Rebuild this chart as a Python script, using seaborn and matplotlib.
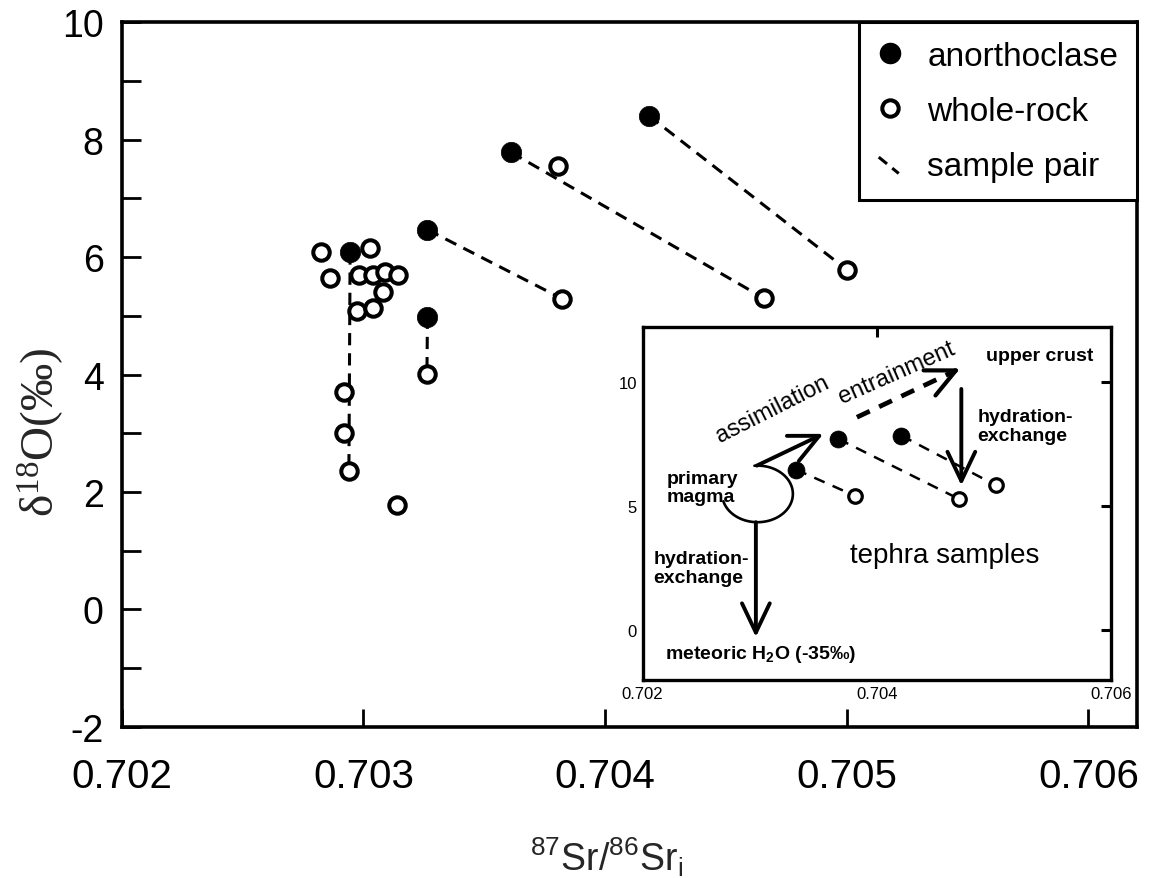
import matplotlib
matplotlib.use("Agg")
import matplotlib.pyplot as plt
import numpy as np
import pandas as pd
import seaborn as sns
from matplotlib.lines import Line2D
from matplotlib.legend_handler import HandlerBase
from matplotlib.ticker import FixedLocator, MultipleLocator, NullFormatter

# ---- data -------------------------------------------------------------
# anorthoclase separates: initial 87Sr/86Sr and d18O (per mil)
anor_sr = [0.702945, 0.703265, 0.703265, 0.703611, 0.704181]
anor_d18o = [6.08, 4.985, 6.467, 7.785, 8.409]

# whole-rock samples
wr_sr = [0.702824, 0.703028, 0.702860, 0.702980, 0.703039, 0.703090,
         0.703143, 0.703081, 0.702973, 0.703038, 0.702918, 0.702920,
         0.702940, 0.703139, 0.703263, 0.703804, 0.703823, 0.704657,
         0.705002]
wr_d18o = [6.08, 6.15, 5.64, 5.70, 5.70, 5.74,
           5.70, 5.41, 5.09, 5.13, 3.71, 3.00,
           2.36, 1.78, 4.01, 7.56, 5.29, 5.30,
           5.78]

# anorthoclase / whole-rock pairs from the same sample (list indices)
pair_anor = [0, 1, 2, 3, 4]
pair_wr = [12, 14, 16, 17, 18]

# tephra samples shown in the process sketch
sketch_anor_sr = [0.70331, 0.70367, 0.70421]
sketch_anor_d18o = [6.48, 7.72, 7.85]
sketch_wr_sr = [0.70381, 0.70470, 0.70502]
sketch_wr_d18o = [5.43, 5.30, 5.84]

x_ticks = [0.702, 0.703, 0.704, 0.705, 0.706]
x_ticklabels = ["0.702", "0.703", "0.704", "0.705", "0.706"]
y_ticks = [-2, 0, 2, 4, 6, 8, 10]
sketch_x_ticks = [0.702, 0.704, 0.706]
sketch_x_ticklabels = ["0.702", "0.704", "0.706"]
sketch_y_ticks = [0, 5, 10]

# ---- tables -------------------------------------------------------------
anor_df = pd.DataFrame({"sr": anor_sr, "d18o": anor_d18o})
wr_df = pd.DataFrame({"sr": wr_sr, "d18o": wr_d18o})
pair_rows = []
for k, (i, j) in enumerate(zip(pair_anor, pair_wr)):
    pair_rows.append({"pair": k, "sr": anor_sr[i], "d18o": anor_d18o[i]})
    pair_rows.append({"pair": k, "sr": wr_sr[j], "d18o": wr_d18o[j]})
pair_df = pd.DataFrame(pair_rows)

sk_anor_df = pd.DataFrame({"sr": sketch_anor_sr, "d18o": sketch_anor_d18o})
sk_wr_df = pd.DataFrame({"sr": sketch_wr_sr, "d18o": sketch_wr_d18o})
sk_rows = []
for k in range(len(sketch_anor_sr)):
    sk_rows.append({"pair": k, "sr": sketch_anor_sr[k], "d18o": sketch_anor_d18o[k]})
    sk_rows.append({"pair": k, "sr": sketch_wr_sr[k], "d18o": sketch_wr_d18o[k]})
sk_pair_df = pd.DataFrame(sk_rows)

# ---- style -------------------------------------------------------------
sns.set_theme(style="white")
plt.rcParams["font.family"] = ["Liberation Sans", "DejaVu Sans"]
plt.rcParams["mathtext.default"] = "regular"
plt.rcParams["axes.unicode_minus"] = False
plt.rcParams["axes.edgecolor"] = "black"
plt.rcParams["text.color"] = "black"
plt.rcParams["xtick.color"] = "black"
plt.rcParams["ytick.color"] = "black"

fig = plt.figure(figsize=(11.54, 8.79), dpi=100)
ax = fig.add_axes([0.1055, 0.1721, 0.8795, 0.8014])

PAIR_DASH = (0, (4, 2.6))

# sample-pair tie lines
sns.lineplot(data=pair_df, x="sr", y="d18o", units="pair", estimator=None,
             sort=False, color="black", linewidth=2.2, linestyle=PAIR_DASH,
             legend=False, ax=ax, zorder=1)
# anorthoclase (filled) and whole-rock (open) points
sns.scatterplot(data=anor_df, x="sr", y="d18o", ax=ax, s=215, color="black",
                edgecolor="black", linewidth=0.5, zorder=2, legend=False)
sns.scatterplot(data=wr_df, x="sr", y="d18o", ax=ax, s=140, color="white",
                edgecolor="black", linewidth=2.9, zorder=3, legend=False)

ax.set_xlim(0.702, 0.7062)
ax.set_ylim(-2, 10)
ax.xaxis.set_major_locator(FixedLocator(x_ticks))
ax.set_xticklabels(x_ticklabels)
ax.yaxis.set_major_locator(FixedLocator(y_ticks))
ax.yaxis.set_minor_locator(MultipleLocator(1))
ax.yaxis.set_minor_formatter(NullFormatter())
ax.tick_params(axis="x", which="major", direction="in", length=13, width=2,
               labelsize=29, pad=22, top=False, bottom=True)
ax.tick_params(axis="y", which="both", direction="in", length=14, width=2,
               left=True, right=False)
ax.tick_params(axis="y", which="major", labelsize=27, pad=13)
for sp in ax.spines.values():
    sp.set_linewidth(2.6)
    sp.set_color("black")

ax.set_xlabel(r"$^{87}$Sr/$^{86}$Sr$_{i}$", fontsize=27)
ax.xaxis.set_label_coords(0.478, -0.152)
ax.set_ylabel(r"$\delta^{18}$O(‰)", fontsize=34,
              family=["Liberation Serif", "DejaVu Serif"])
ax.yaxis.set_label_coords(-0.055, 0.42)


class DiagonalDashHandler(HandlerBase):
    def create_artists(self, legend, orig_handle, xdescent, ydescent,
                       width, height, fontsize, trans):
        x0 = -xdescent + 0.05 * width
        x1 = -xdescent + 0.85 * width
        y0 = -ydescent + 0.75 * height
        y1 = -ydescent + 0.05 * height
        line = Line2D([x0, x1], [y0, y1], color="black", linewidth=2.2)
        line.set_dashes((3.5, 2.2))
        line.set_transform(trans)
        return [line]


h_anor = Line2D([], [], linestyle="none", marker="o", markersize=14.5,
                markerfacecolor="black", markeredgecolor="black")
h_wr = Line2D([], [], linestyle="none", marker="o", markersize=11.8,
              markerfacecolor="white", markeredgecolor="black",
              markeredgewidth=2.9)
h_pair = Line2D([], [], color="black", linewidth=2.2)
leg = ax.legend([h_anor, h_wr, h_pair],
                ["anorthoclase", "whole-rock", "sample pair"],
                handler_map={h_pair: DiagonalDashHandler()},
                loc="upper right", bbox_to_anchor=(1.0, 1.0),
                borderaxespad=0.0, fontsize=24, frameon=True, fancybox=False,
                edgecolor="black", framealpha=1.0, handlelength=0.75,
                handletextpad=0.75, borderpad=0.55, labelspacing=0.72)
leg.get_frame().set_linewidth(2.2)

# ---- process sketch ---------------------------------------------------
axi = fig.add_axes([0.5569, 0.2253, 0.4058, 0.4016])
axi.set_facecolor("white")
sns.lineplot(data=sk_pair_df, x="sr", y="d18o", units="pair", estimator=None,
             sort=False, color="black", linewidth=1.8, linestyle=(0, (4.5, 3.5)),
             legend=False, ax=axi, zorder=1)
sns.scatterplot(data=sk_anor_df, x="sr", y="d18o", ax=axi, s=150,
                color="black", edgecolor="black", linewidth=0.5, zorder=2,
                legend=False)
sns.scatterplot(data=sk_wr_df, x="sr", y="d18o", ax=axi, s=95, color="white",
                edgecolor="black", linewidth=2.3, zorder=3, legend=False)

axi.set_xlim(0.702, 0.706)
axi.set_ylim(-2, 12.23)
axi.xaxis.set_major_locator(FixedLocator(sketch_x_ticks))
axi.set_xticklabels(sketch_x_ticklabels)
axi.yaxis.set_major_locator(FixedLocator(sketch_y_ticks))
axi.tick_params(axis="both", direction="in", length=7, width=2.2,
                labelsize=12, pad=4, top=True, right=True)
axi.set_xlabel("")
axi.set_ylabel("")
for sp in axi.spines.values():
    sp.set_linewidth(2.4)
    sp.set_color("black")

HEAD = "->,head_length=1.05,head_width=0.5"


def sketch_arrow(x0, y0, x1, y1, lw=2.8):
    axi.annotate("", xy=(x1, y1), xytext=(x0, y0),
                 arrowprops=dict(arrowstyle=HEAD, color="black", lw=lw,
                                 shrinkA=0, shrinkB=0, mutation_scale=20))


# primary magma field: open elliptical outline around the source composition
mag_cx, mag_cy, mag_w, mag_h = 0.702981, 5.50, 0.000604, 2.28
t = np.deg2rad(np.linspace(-165, 95, 120))
axi.plot(mag_cx + 0.5 * mag_w * np.cos(t), mag_cy + 0.5 * mag_h * np.sin(t),
         color="black", linewidth=1.9)
# assimilation toward the anorthoclase
sketch_arrow(0.702975, 6.64, 0.703543, 7.92)
# entrainment toward upper crust (dashed shaft, solid head)
ex0, ey0, ex1, ey1 = 0.70383, 8.59, 0.704713, 10.56
axi.plot([ex0, ex1 - 0.04 * (ex1 - ex0)], [ey0, ey1 - 0.04 * (ey1 - ey0)],
         color="black", linewidth=3.4, dashes=(3.0, 2.2), solid_capstyle="butt")
sketch_arrow(ex1 - 0.08 * (ex1 - ex0), ey1 - 0.08 * (ey1 - ey0), ex1, ey1, lw=3.0)
# hydration exchange arrows
sketch_arrow(0.704722, 9.73, 0.704722, 5.84)
sketch_arrow(0.702967, 4.36, 0.702967, -0.27)

axi.text(0.703108, 8.93, "assimilation", fontsize=17, rotation=26.8,
         rotation_mode="anchor", ha="center", va="center")
axi.text(0.704169, 10.40, "entrainment", fontsize=17, rotation=23.8,
         rotation_mode="anchor", ha="center", va="center")
axi.text(0.704934, 11.07, "upper crust", fontsize=14, fontweight="bold",
         ha="left", va="center")
axi.text(0.704861, 8.22, "hydration-\nexchange", fontsize=14,
         fontweight="bold", ha="left", va="center", linespacing=1.15)
axi.text(0.702208, 5.75, "primary\nmagma", fontsize=14, fontweight="bold",
         ha="left", va="center", linespacing=1.05)
axi.text(0.702091, 2.52, "hydration-\nexchange", fontsize=14,
         fontweight="bold", ha="left", va="center", linespacing=1.15)
axi.text(0.702195, -0.94, "meteoric H$_2$O (-35‰)", fontsize=14,
         fontweight="bold", ha="left", va="center")
axi.text(0.70458, 3.02, "tephra samples", fontsize=20, ha="center",
         va="center")

fig.savefig("out.png", dpi=100)
